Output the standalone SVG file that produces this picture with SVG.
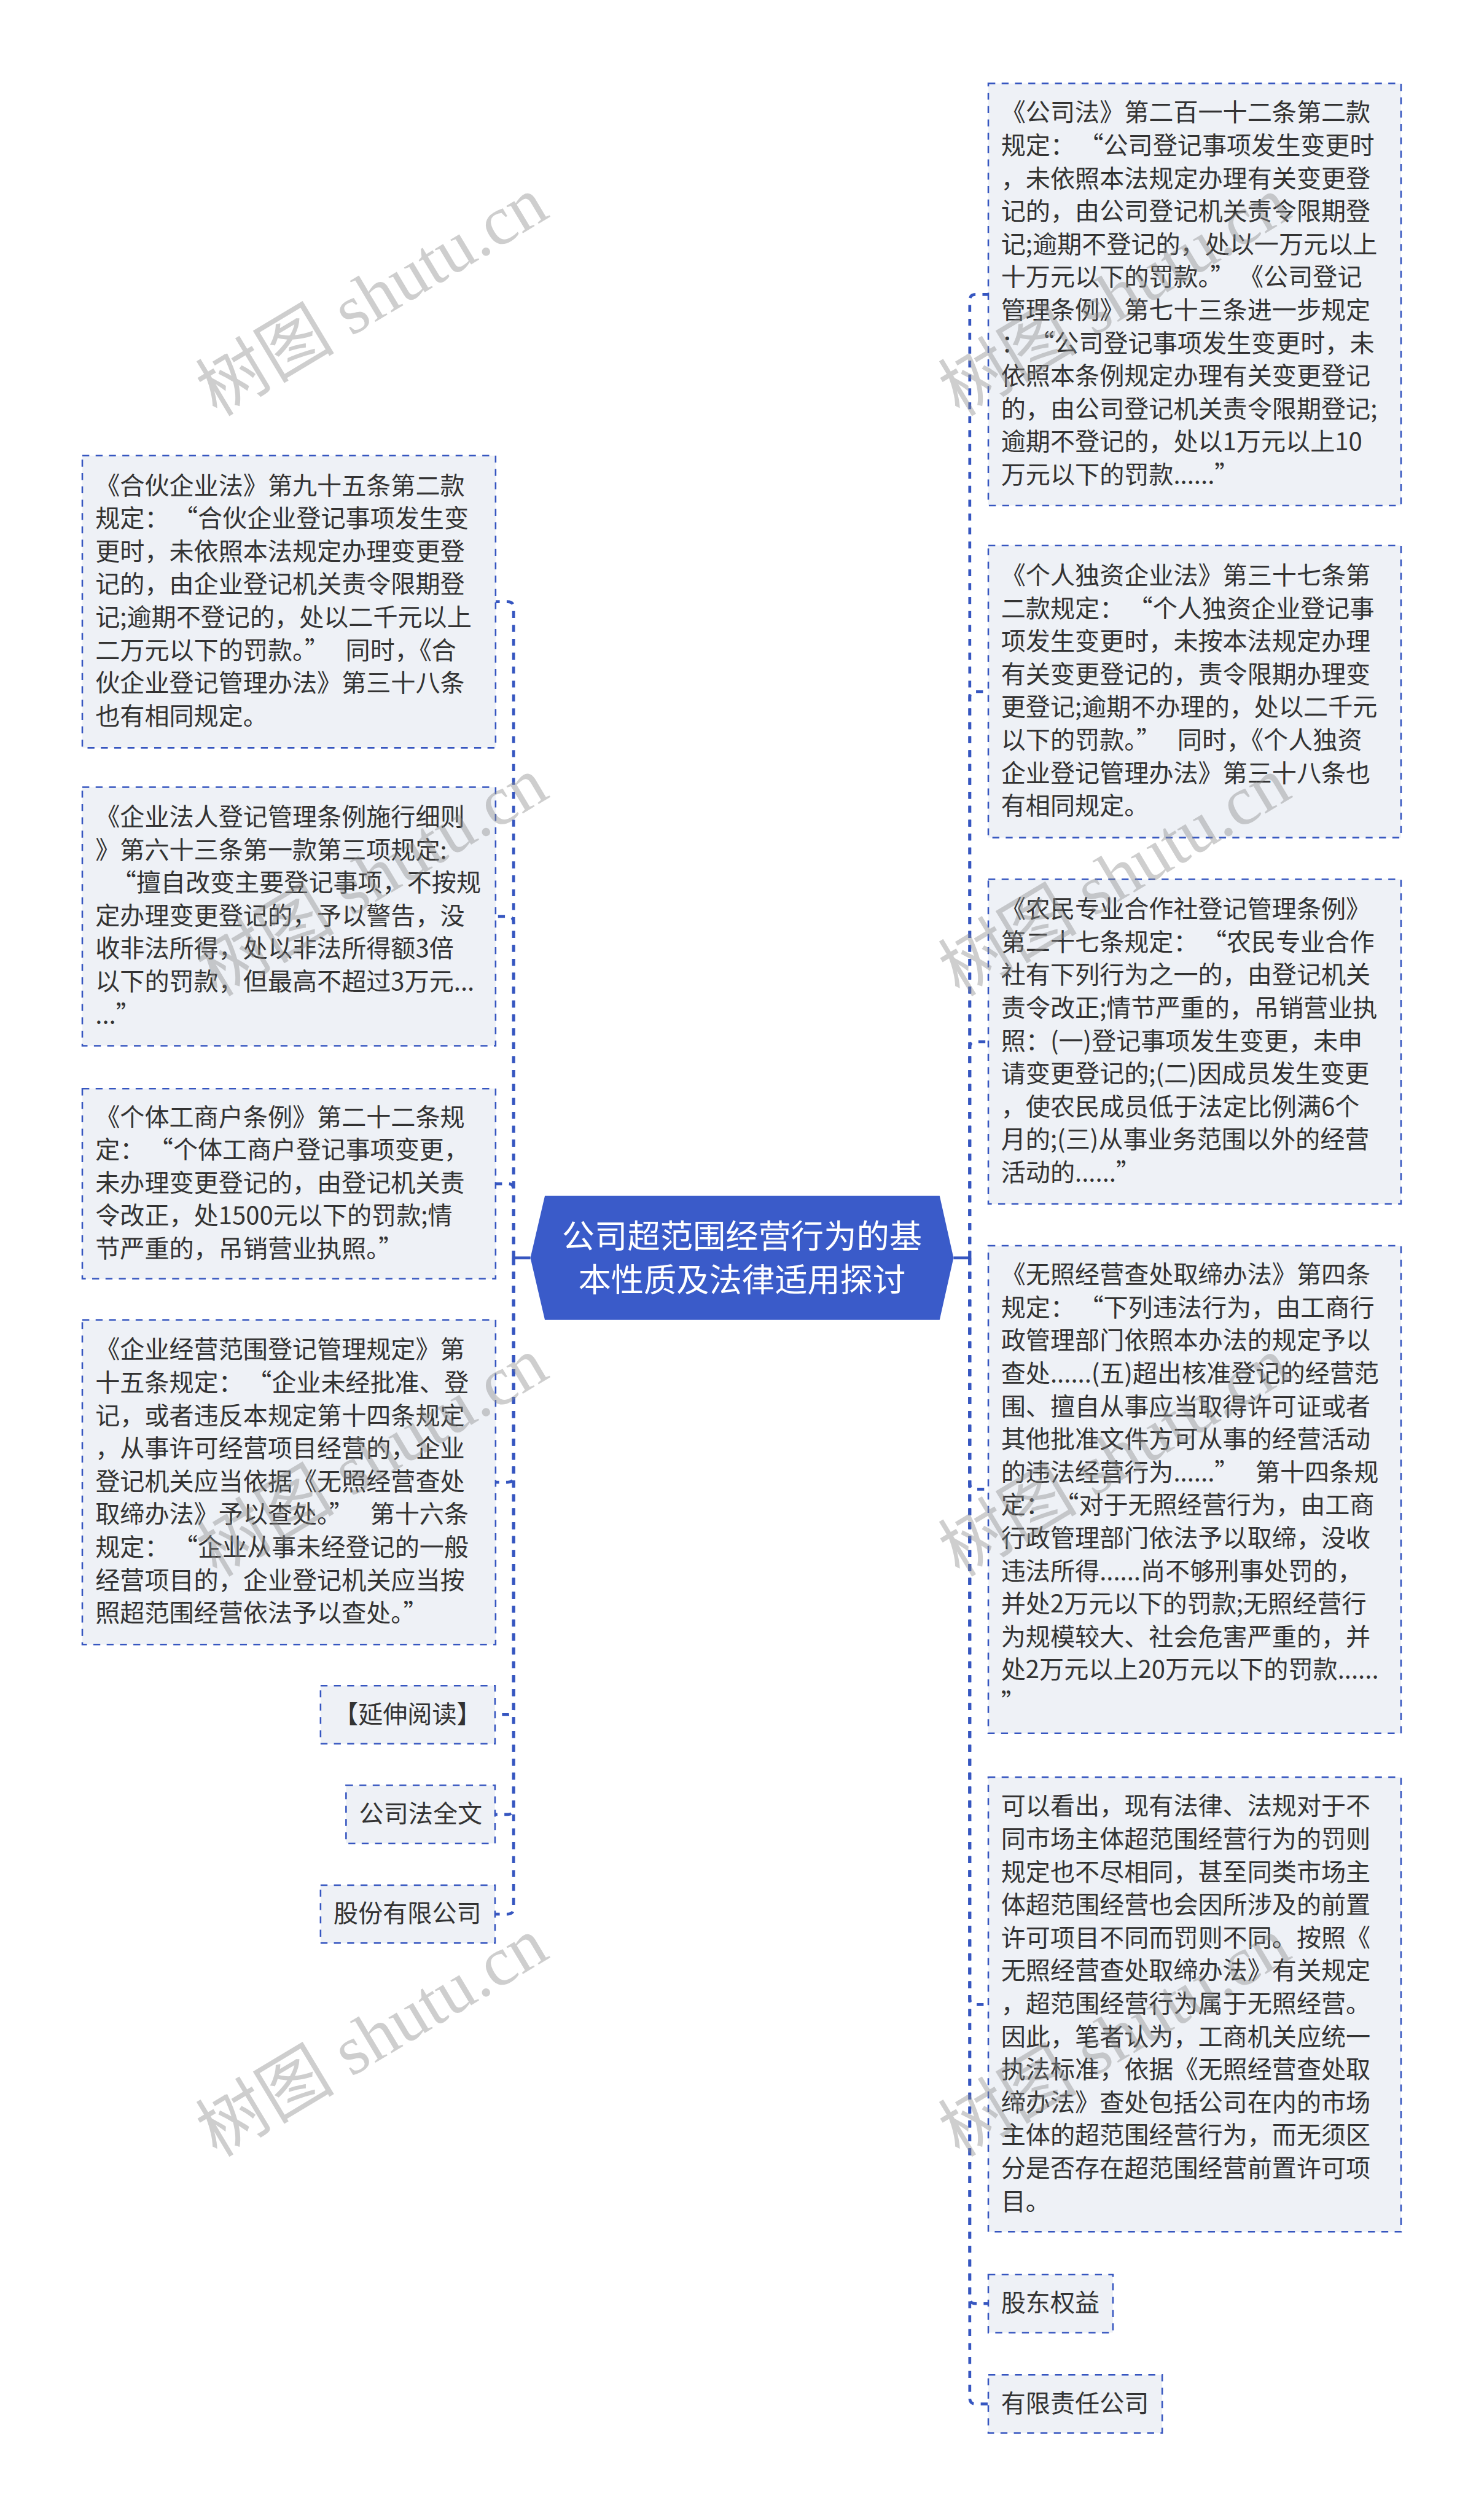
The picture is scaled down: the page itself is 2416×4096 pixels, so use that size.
<svg xmlns="http://www.w3.org/2000/svg" width="2416" height="4096" viewBox="0 0 2416 4096">
<defs>
<style>
.box{fill:#eef1f6;stroke:#3656c0;stroke-width:2.7;stroke-dasharray:12 11;}
.t{font-family:"Noto Sans CJK SC","Noto Sans CJK JP",sans-serif;font-size:42.5px;fill:#333333;}
.ct{font-family:"Noto Sans CJK SC","Noto Sans CJK JP",sans-serif;font-size:56.5px;fill:#ffffff;text-anchor:middle;}
.link{fill:none;stroke:#3656c0;stroke-width:5;stroke-dasharray:12 12;}
.solid{fill:none;stroke:#3656c0;stroke-width:5;}
.wm{font-family:"Liberation Serif","Noto Sans CJK SC",serif;font-size:120px;fill:#8a8a8a;fill-opacity:0.42;text-anchor:middle;}
</style>
</defs>
<rect width="2416" height="4096" fill="#ffffff"/>
<g transform="scale(0.9437)">
<g id="connectors">
<path class="solid" d="M915 2170 H884"/>
<path class="solid" d="M1645 2170 H1675"/>
<path class="link" d="M886 2170 V1048 Q886 1038 876 1038 H855"/>
<path class="link" d="M886 2170 V1591 Q886 1581 876 1581 H855"/>
<path class="link" d="M886 2170 V2052 Q886 2042 876 2042 H855"/>
<path class="link" d="M886 2170 V2547 Q886 2557 876 2557 H855"/>
<path class="link" d="M886 2170 V2948 Q886 2958 876 2958 H854"/>
<path class="link" d="M886 2170 V3120 Q886 3130 876 3130 H854"/>
<path class="link" d="M886 2170 V3292 Q886 3302 876 3302 H854"/>
<path class="link" d="M1673 2170 V518 Q1673 508 1683 508 H1705"/>
<path class="link" d="M1673 2170 V1203 Q1673 1193 1683 1193 H1705"/>
<path class="link" d="M1673 2170 V1807 Q1673 1797 1683 1797 H1705"/>
<path class="link" d="M1673 2170 V2559 Q1673 2569 1683 2569 H1705"/>
<path class="link" d="M1673 2170 V3448 Q1673 3458 1683 3458 H1705"/>
<path class="link" d="M1673 2170 V3964 Q1673 3974 1683 3974 H1705"/>
<path class="link" d="M1673 2170 V4137 Q1673 4147 1683 4147 H1705"/>
</g>
<g id="center">
<polygon points="940,2063 1621,2063 1645,2170 1621,2277 940,2277 915,2170" fill="#3a5bc9"/>
<text class="ct"><tspan x="1280" y="2153">公司超范围经营行为的基</tspan><tspan x="1280" y="2229">本性质及法律适用探讨</tspan></text>
</g>
<g id="r1">
<rect class="box" x="1705" y="144" width="712" height="728"/>
<text class="t"><tspan x="1727" y="209.1">《公司法》第二百一十二条第二款</tspan><tspan x="1727" y="265.9">规定：<tspan dx="28">“</tspan>公司登记事项发生变更时</tspan><tspan x="1727" y="322.7">，未依照本法规定办理有关变更登</tspan><tspan x="1727" y="379.5">记的，由公司登记机关责令限期登</tspan><tspan x="1727" y="436.3">记;逾期不登记的，处以一万元以上</tspan><tspan x="1727" y="493.1">十万元以下的罚款。”<tspan dx="28">《</tspan>公司登记</tspan><tspan x="1727" y="549.9">管理条例》第七十三条进一步规定</tspan><tspan x="1727" y="606.7">：<tspan dx="28">“</tspan>公司登记事项发生变更时，未</tspan><tspan x="1727" y="663.5">依照本条例规定办理有关变更登记</tspan><tspan x="1727" y="720.3">的，由公司登记机关责令限期登记;</tspan><tspan x="1727" y="777.1">逾期不登记的，处以1万元以上10</tspan><tspan x="1727" y="833.9">万元以下的罚款......”</tspan></text>
</g>
<g id="r2">
<rect class="box" x="1705" y="941" width="712" height="504"/>
<text class="t"><tspan x="1727" y="1007.7">《个人独资企业法》第三十七条第</tspan><tspan x="1727" y="1064.5">二款规定：<tspan dx="28">“</tspan>个人独资企业登记事</tspan><tspan x="1727" y="1121.3">项发生变更时，未按本法规定办理</tspan><tspan x="1727" y="1178.1">有关变更登记的，责令限期办理变</tspan><tspan x="1727" y="1234.9">更登记;逾期不办理的，处以二千元</tspan><tspan x="1727" y="1291.7">以下的罚款。”<tspan dx="28">同</tspan>时，《个人独资</tspan><tspan x="1727" y="1348.5">企业登记管理办法》第三十八条也</tspan><tspan x="1727" y="1405.3">有相同规定。</tspan></text>
</g>
<g id="r3">
<rect class="box" x="1705" y="1517" width="712" height="560"/>
<text class="t"><tspan x="1727" y="1583.3">《农民专业合作社登记管理条例》</tspan><tspan x="1727" y="1640.1">第二十七条规定：<tspan dx="28">“</tspan>农民专业合作</tspan><tspan x="1727" y="1696.9">社有下列行为之一的，由登记机关</tspan><tspan x="1727" y="1753.7">责令改正;情节严重的，吊销营业执</tspan><tspan x="1727" y="1810.5">照：(一)登记事项发生变更，未申</tspan><tspan x="1727" y="1867.3">请变更登记的;(二)因成员发生变更</tspan><tspan x="1727" y="1924.1">，使农民成员低于法定比例满6个</tspan><tspan x="1727" y="1980.9">月的;(三)从事业务范围以外的经营</tspan><tspan x="1727" y="2037.7">活动的......”</tspan></text>
</g>
<g id="r4">
<rect class="box" x="1705" y="2149" width="712" height="841"/>
<text class="t"><tspan x="1727" y="2213.8">《无照经营查处取缔办法》第四条</tspan><tspan x="1727" y="2270.6">规定：<tspan dx="28">“</tspan>下列违法行为，由工商行</tspan><tspan x="1727" y="2327.4">政管理部门依照本办法的规定予以</tspan><tspan x="1727" y="2384.2">查处......(五)超出核准登记的经营范</tspan><tspan x="1727" y="2441">围、擅自从事应当取得许可证或者</tspan><tspan x="1727" y="2497.8">其他批准文件方可从事的经营活动</tspan><tspan x="1727" y="2554.6">的违法经营行为......”<tspan dx="28">第</tspan>十四条规</tspan><tspan x="1727" y="2611.4">定：<tspan dx="28">“</tspan>对于无照经营行为，由工商</tspan><tspan x="1727" y="2668.2">行政管理部门依法予以取缔，没收</tspan><tspan x="1727" y="2725">违法所得......尚不够刑事处罚的，</tspan><tspan x="1727" y="2781.8">并处2万元以下的罚款;无照经营行</tspan><tspan x="1727" y="2838.6">为规模较大、社会危害严重的，并</tspan><tspan x="1727" y="2895.4">处2万元以上20万元以下的罚款......</tspan><tspan x="1727" y="2952.2">”</tspan></text>
</g>
<g id="r5">
<rect class="box" x="1705" y="3066" width="712" height="784"/>
<text class="t"><tspan x="1727" y="3130.7">可以看出，现有法律、法规对于不</tspan><tspan x="1727" y="3187.5">同市场主体超范围经营行为的罚则</tspan><tspan x="1727" y="3244.3">规定也不尽相同，甚至同类市场主</tspan><tspan x="1727" y="3301.1">体超范围经营也会因所涉及的前置</tspan><tspan x="1727" y="3357.9">许可项目不同而罚则不同。按照《</tspan><tspan x="1727" y="3414.7">无照经营查处取缔办法》有关规定</tspan><tspan x="1727" y="3471.5">，超范围经营行为属于无照经营。</tspan><tspan x="1727" y="3528.3">因此，笔者认为，工商机关应统一</tspan><tspan x="1727" y="3585.1">执法标准，依据《无照经营查处取</tspan><tspan x="1727" y="3641.9">缔办法》查处包括公司在内的市场</tspan><tspan x="1727" y="3698.7">主体的超范围经营行为，而无须区</tspan><tspan x="1727" y="3755.5">分是否存在超范围经营前置许可项</tspan><tspan x="1727" y="3812.3">目。</tspan></text>
</g>
<g id="r6">
<rect class="box" x="1705" y="3924" width="215" height="100"/>
<text class="t" x="1727" y="3988">股东权益</text>
</g>
<g id="r7">
<rect class="box" x="1705" y="4097" width="300" height="100"/>
<text class="t" x="1727" y="4161">有限责任公司</text>
</g>
<g id="l1">
<rect class="box" x="142" y="786" width="713" height="504"/>
<text class="t"><tspan x="164.5" y="852.7">《合伙企业法》第九十五条第二款</tspan><tspan x="164.5" y="909.5">规定：<tspan dx="28">“</tspan>合伙企业登记事项发生变</tspan><tspan x="164.5" y="966.3">更时，未依照本法规定办理变更登</tspan><tspan x="164.5" y="1023.1">记的，由企业登记机关责令限期登</tspan><tspan x="164.5" y="1079.9">记;逾期不登记的，处以二千元以上</tspan><tspan x="164.5" y="1136.7">二万元以下的罚款。”<tspan dx="28">同</tspan>时，《合</tspan><tspan x="164.5" y="1193.5">伙企业登记管理办法》第三十八条</tspan><tspan x="164.5" y="1250.3">也有相同规定。</tspan></text>
</g>
<g id="l2">
<rect class="box" x="142" y="1358" width="713" height="446"/>
<text class="t"><tspan x="164.5" y="1424.1">《企业法人登记管理条例施行细则</tspan><tspan x="164.5" y="1480.9">》第六十三条第一款第三项规定:</tspan><tspan x="192.5" y="1537.7">“擅自改变主要登记事项，不按规</tspan><tspan x="164.5" y="1594.5">定办理变更登记的，予以警告，没</tspan><tspan x="164.5" y="1651.3">收非法所得，处以非法所得额3倍</tspan><tspan x="164.5" y="1708.1">以下的罚款，但最高不超过3万元...</tspan><tspan x="164.5" y="1764.9">...”</tspan></text>
</g>
<g id="l3">
<rect class="box" x="142" y="1878" width="713" height="328"/>
<text class="t"><tspan x="164.5" y="1941.9">《个体工商户条例》第二十二条规</tspan><tspan x="164.5" y="1998.7">定：<tspan dx="28">“</tspan>个体工商户登记事项变更，</tspan><tspan x="164.5" y="2055.5">未办理变更登记的，由登记机关责</tspan><tspan x="164.5" y="2112.3">令改正，处1500元以下的罚款;情</tspan><tspan x="164.5" y="2169.1">节严重的，吊销营业执照。”</tspan></text>
</g>
<g id="l4">
<rect class="box" x="142" y="2277" width="713" height="560"/>
<text class="t"><tspan x="164.5" y="2343.3">《企业经营范围登记管理规定》第</tspan><tspan x="164.5" y="2400.1">十五条规定：<tspan dx="28">“</tspan>企业未经批准、登</tspan><tspan x="164.5" y="2456.9">记，或者违反本规定第十四条规定</tspan><tspan x="164.5" y="2513.7">，从事许可经营项目经营的，企业</tspan><tspan x="164.5" y="2570.5">登记机关应当依据《无照经营查处</tspan><tspan x="164.5" y="2627.3">取缔办法》予以查处。”<tspan dx="28">第</tspan>十六条</tspan><tspan x="164.5" y="2684.1">规定：<tspan dx="28">“</tspan>企业从事未经登记的一般</tspan><tspan x="164.5" y="2740.9">经营项目的，企业登记机关应当按</tspan><tspan x="164.5" y="2797.7">照超范围经营依法予以查处。”</tspan></text>
</g>
<g id="l5">
<rect class="box" x="553" y="2908" width="301" height="100"/>
<text class="t" x="575.5" y="2972">【延伸阅读】</text>
</g>
<g id="l6">
<rect class="box" x="597" y="3080" width="257" height="100"/>
<text class="t" x="619.5" y="3144">公司法全文</text>
</g>
<g id="l7">
<rect class="box" x="553" y="3252" width="301" height="100"/>
<text class="t" x="575.5" y="3316">股份有限公司</text>
</g>
<g id="watermarks">
<text class="wm" transform="translate(642 512) rotate(-31)" y="40">树图 shutu.cn</text>
<text class="wm" transform="translate(1923 512) rotate(-31)" y="40">树图 shutu.cn</text>
<text class="wm" transform="translate(642 1513) rotate(-31)" y="40">树图 shutu.cn</text>
<text class="wm" transform="translate(1923 1513) rotate(-31)" y="40">树图 shutu.cn</text>
<text class="wm" transform="translate(642 2514) rotate(-31)" y="40">树图 shutu.cn</text>
<text class="wm" transform="translate(1923 2514) rotate(-31)" y="40">树图 shutu.cn</text>
<text class="wm" transform="translate(642 3515) rotate(-31)" y="40">树图 shutu.cn</text>
<text class="wm" transform="translate(1923 3515) rotate(-31)" y="40">树图 shutu.cn</text>
</g>
</g>
</svg>
